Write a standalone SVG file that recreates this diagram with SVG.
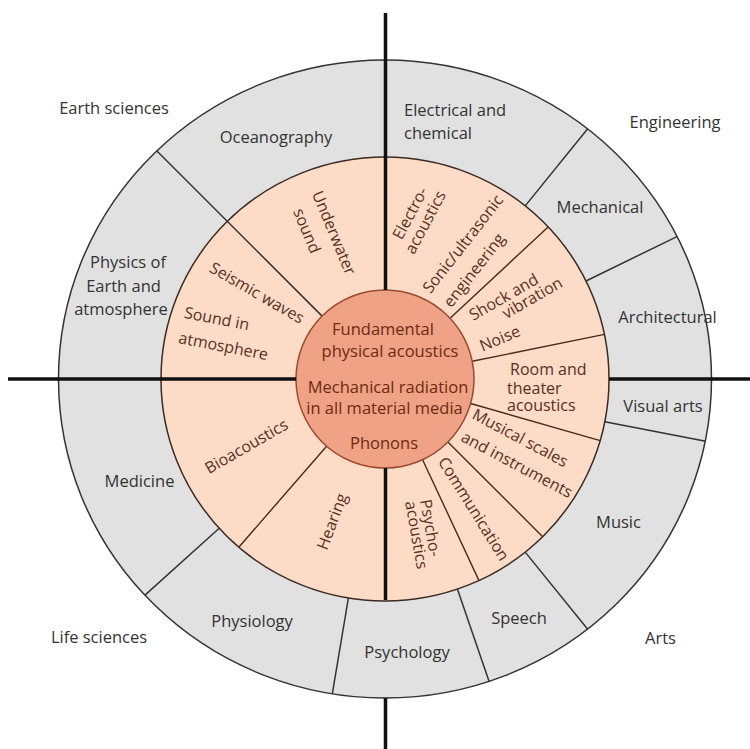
<svg xmlns="http://www.w3.org/2000/svg" width="750" height="749" viewBox="0 0 750 749">
<style>
text{font-family:"Open Sans","Noto Sans","DejaVu Sans",sans-serif}
.g{font-size:16.5px;fill:#333}
.p{font-size:16px;fill:#5b2f1d}
.c{font-size:16.5px;fill:#6e2a12}
.m{text-anchor:middle}
.dg{stroke:#333;stroke-width:1.5;fill:none}
.dp{stroke:#4a2a1c;stroke-width:1.4;fill:none}
.ax{stroke:#111;stroke-width:3.5;fill:none}
</style>
<rect width="750" height="749" fill="#fff"/>
<g id="rings">
<ellipse id="outer-ring" cx="385" cy="379" rx="326.5" ry="319" fill="#e1e1e1" stroke="#333" stroke-width="1.5"/>
<ellipse id="middle-ring" cx="385" cy="379" rx="224" ry="222" fill="#fcdbc7" stroke="#3b2a22" stroke-width="1.5"/>
</g>
<g id="connectors">
<path class="dg" d="M525.2 205.9L587.7 128.7M586 281L677.5 236.3M604.8 421.7L705.7 441.3M525.2 552.1L587.7 629.3M457.4 589.1L489.1 681.4M348.4 598L332.3 693.8M219.2 528.3L144.7 595.4M322.1 316.1L156.7 150.7"/>
<path class="dp" d="M450.1 318.3L548.1 226.9M472.2 361.3L604.4 334.4M470.6 403.5L600.2 440.7M447.9 441.9L542.7 536.7M422.6 459.7L479 580.6M326.6 446.2L238.8 547.2"/>
</g>
<g id="core">
<circle cx="385" cy="379" r="89" fill="#efa285" stroke="#9b4a30" stroke-width="1.5"/>
<text class="c m" x="383" y="335">Fundamental</text>
<text class="c m" x="390" y="357">physical acoustics</text>
<text class="c m" x="388" y="392.5">Mechanical radiation</text>
<text class="c m" x="384.5" y="414">in all material media</text>
<text class="c m" x="384" y="449">Phonons</text>
</g>
<g id="axes">
<path class="ax" d="M385.5 13V290M385.5 468V600M385.5 698V749M8 379H296M609 379H750"/>
</g>
<g id="group-labels">
<text class="g m" x="114" y="114">Earth sciences</text>
<text class="g m" x="675" y="128">Engineering</text>
<text class="g m" x="660.5" y="644">Arts</text>
<text class="g m" x="99" y="643">Life sciences</text>
</g>
<g id="oceanography"><text class="g m" x="276" y="143">Oceanography</text></g>
<g id="electrical"><text class="g" x="404" y="116">Electrical and</text><text class="g" x="404" y="139">chemical</text></g>
<g id="mechanical"><text class="g m" x="600" y="213">Mechanical</text></g>
<g id="architectural"><text class="g m" x="667.5" y="323">Architectural</text></g>
<g id="visual-arts"><text class="g m" x="663" y="411.5">Visual arts</text></g>
<g id="music"><text class="g m" x="618.5" y="527.5">Music</text></g>
<g id="speech"><text class="g m" x="519" y="624">Speech</text></g>
<g id="psychology"><text class="g m" x="407" y="658">Psychology</text></g>
<g id="physiology"><text class="g m" x="252" y="627">Physiology</text></g>
<g id="medicine"><text class="g m" x="139.5" y="486.5">Medicine</text></g>
<g id="physics-earth"><text class="g m" x="128" y="268">Physics of</text><text class="g m" x="123.5" y="291.5">Earth and</text><text class="g m" x="121" y="314.5">atmosphere</text></g>
<g id="underwater"><text class="p m" transform="translate(333.5 233) rotate(67.5)" y="5">Underwater</text><text class="p m" transform="translate(306.5 231) rotate(67.5)" y="5">sound</text></g>
<g id="electroacoustics"><text class="p m" transform="translate(410.5 213.5) rotate(-62)" y="5">Electro-</text><text class="p m" transform="translate(425.8 222.5) rotate(-62)" y="5">acoustics</text></g>
<g id="sonic"><text class="p m" transform="translate(463.3 244.2) rotate(-52)" y="5">Sonic/ultrasonic</text><text class="p m" transform="translate(474.5 270.5) rotate(-52)" y="5">engineering</text></g>
<g id="shock"><text class="p m" transform="translate(504 297.5) rotate(-30)" y="5">Shock and</text><text class="p m" transform="translate(532.5 298.3) rotate(-30)" y="5">vibration</text></g>
<g id="noise"><text class="p m" transform="translate(500 339) rotate(-23)" y="5">Noise</text></g>
<g id="room"><text class="p" x="510" y="374.5">Room and</text><text class="p" x="507" y="394">theater</text><text class="p" x="507" y="411">acoustics</text></g>
<g id="musical"><text class="p m" transform="translate(520 438.3) rotate(28)" y="5">Musical scales</text><text class="p m" transform="translate(516.7 465) rotate(28)" y="5">and instruments</text></g>
<g id="communication"><text class="p m" transform="translate(473.3 509.2) rotate(58)" y="5">Communication</text></g>
<g id="psychoacoustics"><text class="p m" transform="translate(430 528) rotate(80)" y="5">Psycho-</text><text class="p m" transform="translate(416 535) rotate(80)" y="5">acoustics</text></g>
<g id="hearing"><text class="p m" transform="translate(332.5 521.7) rotate(-69.5)" y="5">Hearing</text></g>
<g id="bioacoustics"><text class="p m" transform="translate(246.7 446.7) rotate(-30)" y="5">Bioacoustics</text></g>
<g id="sound-atmosphere"><text class="p m" transform="translate(216.7 319.2) rotate(11)" y="5">Sound in</text><text class="p m" transform="translate(223.3 346.7) rotate(11)" y="5">atmosphere</text></g>
<g id="seismic"><text class="p m" transform="translate(256.7 293.3) rotate(30)" y="5">Seismic waves</text></g>
</svg>
